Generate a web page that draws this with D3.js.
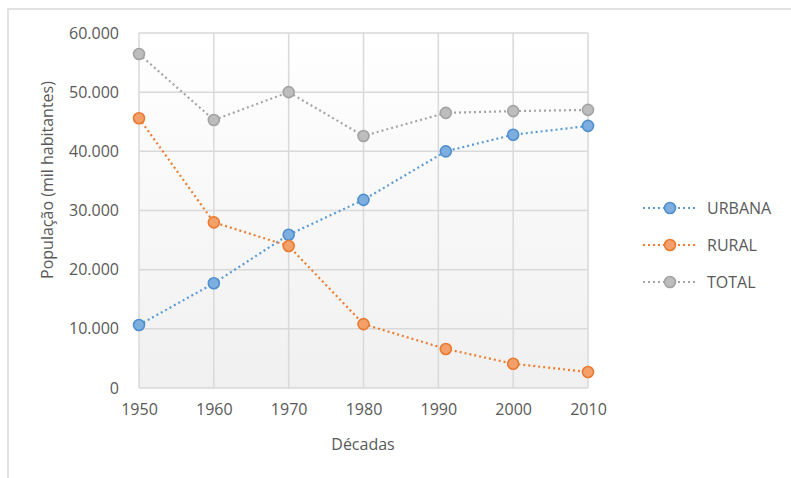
<!DOCTYPE html>
<html>
<head>
<meta charset="utf-8">
<script src="https://cdn.jsdelivr.net/npm/d3@7"></script>
<style>
  body { margin: 0; background: #fff; }
  svg { display: block; font-family: 'Open Sans', sans-serif; }
</style>
</head>
<body>
<svg id="chart" width="791" height="478"></svg>
<script>
// census years (1991 instead of 1990), decade ticks on the axis
const years = [1950, 1960, 1970, 1980, 1991, 2000, 2010]
const tickYears = [1950, 1960, 1970, 1980, 1990, 2000, 2010]
const urbana = [10650, 17700, 25900, 31800, 40000, 42800, 44300]
const rural = [45600, 28000, 24000, 10800, 6600, 4100, 2700]
const total = [56450, 45300, 50000, 42600, 46500, 46800, 47000]
const yTicks = [0, 10000, 20000, 30000, 40000, 50000, 60000]

const series = [
  { name: 'URBANA', values: urbana, line: '#5b9bd5', fill: '#7eaee0', stroke: '#4f8fcf' },
  { name: 'RURAL', values: rural, line: '#ed7d31', fill: '#f4a06a', stroke: '#ea7a30' },
  { name: 'TOTAL', values: total, line: '#a5a5a5', fill: '#bdbdbd', stroke: '#a3a3a3' },
]

const svg = d3.select('#chart')
const textColor = '#595959'
const gridColor = '#d9d9d9'

const locale = d3.formatLocale({ decimal: ',', thousands: '.', grouping: [3], currency: ['', ''] })
const fmt = locale.format(',')

// chart border (right and bottom edges run off the picture)
svg.append('rect')
  .attr('x', 8).attr('y', 9)
  .attr('width', 800).attr('height', 480)
  .attr('fill', 'none')
  .attr('stroke', gridColor)
  .attr('stroke-width', 1.5)

const plotLeft = 139, plotRight = 588, plotTop = 33, plotBottom = 388

const x = d3.scaleLinear().domain([1950, 2010]).range([plotLeft, plotRight])
const y = d3.scaleLinear().domain([0, 60000]).range([plotBottom, plotTop])

const defs = svg.append('defs')
const grad = defs.append('linearGradient')
  .attr('id', 'bg').attr('x1', 0).attr('y1', 0).attr('x2', 0).attr('y2', 1)
grad.append('stop').attr('offset', '0%').attr('stop-color', '#ffffff')
grad.append('stop').attr('offset', '100%').attr('stop-color', '#f0f0f0')

svg.append('rect')
  .attr('x', plotLeft).attr('y', plotTop)
  .attr('width', plotRight - plotLeft).attr('height', plotBottom - plotTop)
  .attr('fill', 'url(#bg)')

// gridlines
svg.selectAll('.hgrid')
  .data(yTicks)
  .join('line')
  .attr('class', 'hgrid')
  .attr('x1', plotLeft).attr('x2', plotRight)
  .attr('y1', (d) => y(d)).attr('y2', (d) => y(d))
  .attr('stroke', gridColor)
  .attr('stroke-width', 1.5)

svg.selectAll('.vgrid')
  .data(tickYears)
  .join('line')
  .attr('class', 'vgrid')
  .attr('x1', (d) => x(d)).attr('x2', (d) => x(d))
  .attr('y1', plotTop).attr('y2', plotBottom)
  .attr('stroke', gridColor)
  .attr('stroke-width', 1.5)

// axes (labels only, lines come from the grid)
const yAxis = svg.append('g')
  .attr('transform', `translate(${plotLeft},0)`)
  .call(d3.axisLeft(y).tickValues(yTicks).tickFormat((d) => fmt(d)).tickSize(0).tickPadding(20))
yAxis.select('.domain').remove()
yAxis.selectAll('text')
  .attr('fill', textColor)
  .style('font-size', '16px')
  .style('font-family', "'Open Sans', sans-serif")

const xAxis = svg.append('g')
  .attr('transform', `translate(0,${plotBottom})`)
  .call(d3.axisBottom(x).tickValues(tickYears).tickFormat(d3.format('d')).tickSize(0).tickPadding(16))
xAxis.select('.domain').remove()
xAxis.selectAll('text')
  .attr('fill', textColor)
  .style('font-size', '16px')
  .style('font-family', "'Open Sans', sans-serif")

// axis titles
svg.append('text')
  .attr('transform', 'translate(53,180) rotate(-90)')
  .attr('text-anchor', 'middle')
  .attr('fill', textColor)
  .style('font-size', '16px')
  .text('População (mil habitantes)')

svg.append('text')
  .attr('x', 363).attr('y', 450)
  .attr('text-anchor', 'middle')
  .attr('fill', textColor)
  .style('font-size', '16px')
  .text('Décadas')

// lines and markers
const line = d3.line()
  .x((d, i) => x(years[i]))
  .y((d) => y(d))

series.forEach((s) => {
  svg.append('path')
    .datum(s.values)
    .attr('d', line)
    .attr('fill', 'none')
    .attr('stroke', s.line)
    .attr('stroke-width', 2.2)
    .attr('stroke-dasharray', '2,3')

  svg.selectAll(null)
    .data(s.values)
    .join('circle')
    .attr('cx', (d, i) => x(years[i]))
    .attr('cy', (d) => y(d))
    .attr('r', 5.5)
    .attr('fill', s.fill)
    .attr('stroke', s.stroke)
    .attr('stroke-width', 1.6)
})

// legend
const legend = svg.append('g')
  .selectAll('g')
  .data(series)
  .join('g')
  .attr('transform', (d, i) => `translate(643,${208 + i * 37})`)

legend.append('line')
  .attr('x1', 0).attr('x2', 55)
  .attr('stroke', (d) => d.line)
  .attr('stroke-width', 2.2)
  .attr('stroke-dasharray', '2,3')

legend.append('circle')
  .attr('cx', 27).attr('r', 5.5)
  .attr('fill', (d) => d.fill)
  .attr('stroke', (d) => d.stroke)
  .attr('stroke-width', 1.6)

legend.append('text')
  .attr('x', 64).attr('dy', '0.35em')
  .attr('fill', textColor)
  .style('font-size', '16px')
  .text((d) => d.name)
</script>
</body>
</html>
